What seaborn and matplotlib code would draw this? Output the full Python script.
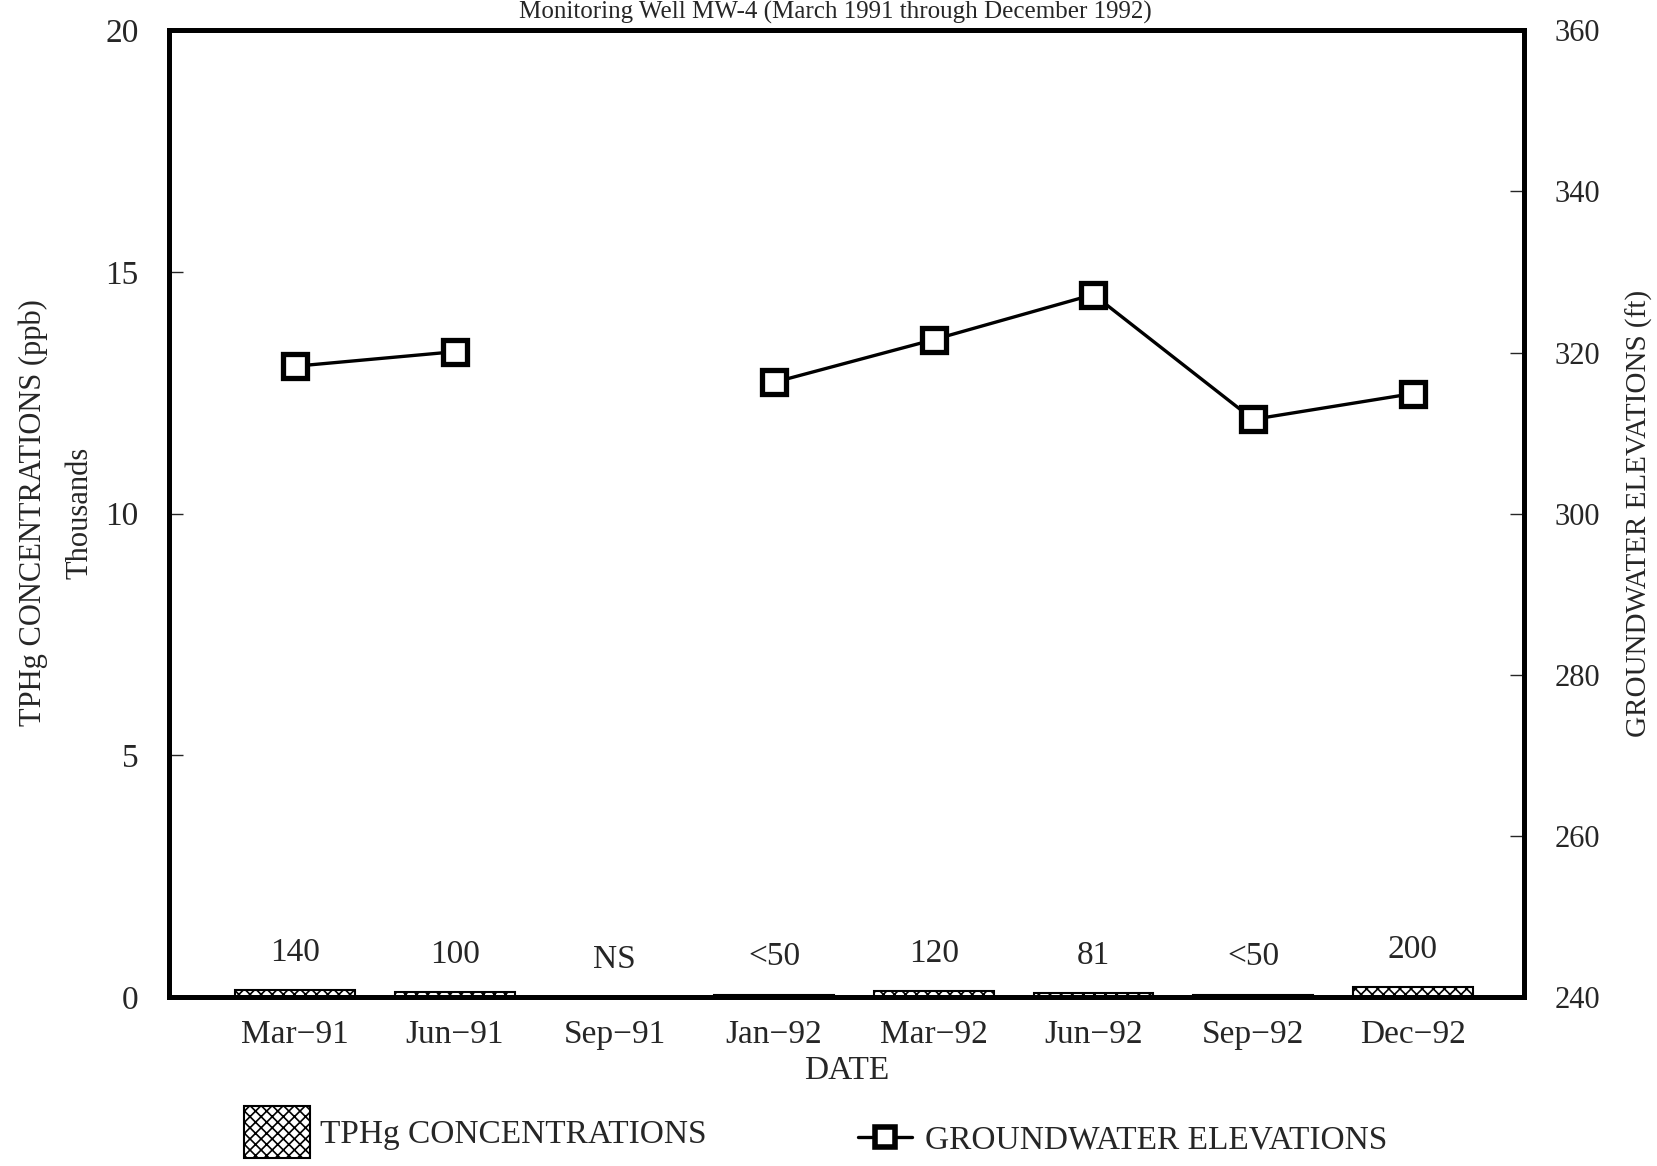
import numpy as np
import pandas as pd
import matplotlib
matplotlib.use("Agg")
import matplotlib.pyplot as plt
import seaborn as sns
from matplotlib.patches import Patch
from matplotlib.lines import Line2D

# datos
fechas = ["Mar\u221291", "Jun\u221291", "Sep\u221291", "Jan\u221292",
          "Mar\u221292", "Jun\u221292", "Sep\u221292", "Dec\u221292"]
tphg_miles = [0.14, 0.10, 0.0, 0.05, 0.12, 0.081, 0.05, 0.20]   # ppb / 1000
tphg_etiquetas = ["140", "100", "NS", "<50", "120", "81", "<50", "200"]
elevacion = [318.3, 320.1, np.nan, 316.3, 321.6, 327.2, 311.7, 314.9]  # ft
tramo = [0, 0, 0, 1, 1, 1, 1, 1]

sns.set_style("white")
plt.rcParams["font.family"] = ["Liberation Serif", "DejaVu Serif"]
plt.rcParams["hatch.linewidth"] = 1.2

df = pd.DataFrame({
    "fecha": fechas,
    "pos": np.arange(len(fechas)),
    "tphg": tphg_miles,
    "elev": elevacion,
    "tramo": tramo,
})

fig = plt.figure(figsize=(16.57, 11.66), dpi=100)
ax = fig.add_axes([0.102, 0.145, 0.818, 0.829])

sns.barplot(data=df, x="fecha", y="tphg", ax=ax, color="white",
            edgecolor="black", linewidth=1.5, width=0.75, hatch="xxx",
            saturation=1)
ax.bar_label(ax.containers[0], labels=tphg_etiquetas, padding=16, fontsize=24)

ax.set_ylim(0, 20)
ax.set_yticks([0, 5, 10, 15, 20])
ax.set_xlim(-0.79, 7.70)
ax.set_xlabel("DATE", fontsize=24, labelpad=4)
ax.set_ylabel("")
ax.tick_params(axis="y", direction="in", length=10, width=1, labelsize=24, pad=22)
ax.tick_params(axis="x", length=0, labelsize=24, pad=16)

# rotulos do eixo esquerdo
fig.text(0.020, 0.56, "TPHg CONCENTRATIONS (ppb)", rotation=90,
         ha="center", va="center", fontsize=22)
fig.text(0.048, 0.56, "Thousands", rotation=90,
         ha="center", va="center", fontsize=22)

ax2 = ax.twinx()
df_linea = df.dropna(subset=["elev"])
sns.lineplot(data=df_linea, x="pos", y="elev", units="tramo", estimator=None,
             ax=ax2, color="black", linewidth=2.4, marker="s", markersize=17,
             markerfacecolor="white", markeredgecolor="black", markeredgewidth=3.8)
ax2.set_ylim(240, 360)
ax2.set_yticks([240, 260, 280, 300, 320, 340, 360])
ax2.set_ylabel("GROUNDWATER ELEVATIONS (ft)", fontsize=21, labelpad=18)
ax2.tick_params(axis="y", direction="in", length=10, width=1, labelsize=22, pad=22)
ax2.set_xlim(-0.79, 7.70)

for a in (ax, ax2):
    for s in a.spines.values():
        s.set_linewidth(3.5)
        s.set_color("black")

fig.text(0.504, 0.999, "Monitoring Well MW-4 (March 1991 through December 1992)",
         ha="center", va="top", fontsize=18)

# leyenda
h1 = Patch(facecolor="white", edgecolor="black", hatch="xxx", linewidth=1.5)
h2 = Line2D([0], [0], color="black", linewidth=2.4, marker="s", markersize=14,
            markerfacecolor="white", markeredgecolor="black", markeredgewidth=4)
fig.legend([h1], ["TPHg CONCENTRATIONS"], loc="center left",
           bbox_to_anchor=(0.147, 0.029), frameon=False, fontsize=24,
           handlelength=2.0, handleheight=2.0, handletextpad=0.3,
           borderaxespad=0, borderpad=0)
fig.legend([h2], ["GROUNDWATER ELEVATIONS"], loc="center left",
           bbox_to_anchor=(0.518, 0.022), frameon=False, fontsize=24,
           handlelength=1.6, handletextpad=0.4, borderaxespad=0, borderpad=0)

fig.savefig("out.png", dpi=100)
